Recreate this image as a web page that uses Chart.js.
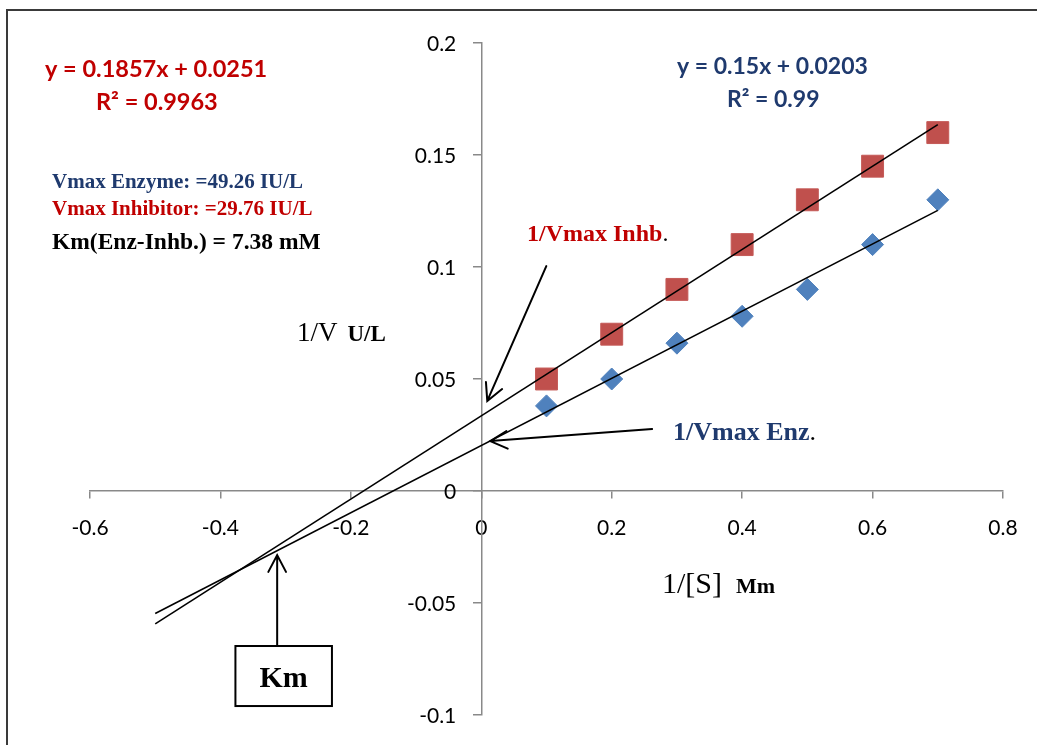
<!DOCTYPE html>
<html>
<head>
<meta charset="utf-8">
<script src="https://cdn.jsdelivr.net/npm/chart.js@4/dist/chart.umd.min.js"></script>
<style>
  html, body { margin: 0; padding: 0; background: #ffffff; }
  #wrap { width: 1037px; height: 745px; position: relative; }
</style>
</head>
<body>
<div id="wrap"><canvas id="plot" width="1037" height="745"></canvas></div>
<script>
// Lineweaver-Burk data: 1/[S] against 1/V
const substrateInv = [0.1, 0.2, 0.3, 0.4, 0.5, 0.6, 0.7];
const enzymeRate = [0.038, 0.05, 0.066, 0.078, 0.09, 0.11, 0.13];
const inhibitorRate = [0.05, 0.07, 0.09, 0.11, 0.13, 0.145, 0.16];

// trendlines are extended back to this 1/[S] value
const trendFrom = -0.5;
const trendTo = 0.7;

const xTicks = [-0.6, -0.4, -0.2, 0, 0.2, 0.4, 0.6, 0.8];
const yTicks = [-0.1, -0.05, 0, 0.05, 0.1, 0.15, 0.2];

// least-squares line through the points
function linearFit(xs, ys) {
  const n = xs.length;
  const mx = xs.reduce((a, b) => a + b, 0) / n;
  const my = ys.reduce((a, b) => a + b, 0) / n;
  let sxy = 0, sxx = 0;
  for (let i = 0; i < n; i++) {
    sxy += (xs[i] - mx) * (ys[i] - my);
    sxx += (xs[i] - mx) * (xs[i] - mx);
  }
  const slope = sxy / sxx;
  return { slope, intercept: my - slope * mx };
}

function trendPoints(fit) {
  return [trendFrom, trendTo].map(x => ({ x, y: fit.slope * x + fit.intercept }));
}

const enzFit = linearFit(substrateInv, enzymeRate);
const inhFit = linearFit(substrateInv, inhibitorRate);

const toPoints = ys => substrateInv.map((x, i) => ({ x, y: ys[i] }));
const fmt = v => String(Number(Number(v).toFixed(3)));

const RED = '#C00000';
const NAVY = '#1F3A6E';
const SERIF = '"Liberation Serif", "Times New Roman", serif';
const SANS = 'Lato, "Open Sans", sans-serif';
const TICK_FONT = '21px Lato, "Open Sans", sans-serif';

// write a line made of differently styled pieces
function drawRuns(ctx, x, y, runs) {
  ctx.textBaseline = 'alphabetic';
  ctx.textAlign = 'left';
  for (const r of runs) {
    ctx.font = r.font;
    ctx.fillStyle = r.color;
    ctx.fillText(r.text, x, y);
    x += ctx.measureText(r.text).width + (r.gap || 0);
  }
}

// open arrowhead at (x2, y2)
function arrow(ctx, x1, y1, x2, y2) {
  const len = 19, spread = Math.PI / 6.5;
  const a = Math.atan2(y1 - y2, x1 - x2);
  ctx.beginPath();
  ctx.moveTo(x1, y1);
  ctx.lineTo(x2, y2);
  ctx.moveTo(x2 + len * Math.cos(a - spread), y2 + len * Math.sin(a - spread));
  ctx.lineTo(x2, y2);
  ctx.lineTo(x2 + len * Math.cos(a + spread), y2 + len * Math.sin(a + spread));
  ctx.stroke();
}

const notes = {
  id: 'notes',
  afterDatasetsDraw(chart) {
    const ctx = chart.ctx;
    const xs = chart.scales.x, ys = chart.scales.y;
    const px = v => xs.getPixelForValue(v);
    const py = v => ys.getPixelForValue(v);
    ctx.save();

    // y tick labels sit to the left of the tick marks of the centred axis
    const axisX = px(0);
    ctx.font = TICK_FONT;
    ctx.fillStyle = '#000';
    ctx.textAlign = 'right';
    ctx.textBaseline = 'middle';
    ys.ticks.forEach(t => {
      ctx.fillText(t.label !== undefined ? t.label : fmt(t.value), axisX - 25, py(t.value) + 1);
    });

    // frame
    ctx.strokeStyle = '#3a3a3a';
    ctx.lineWidth = 2;
    ctx.beginPath();
    ctx.moveTo(7, 745);
    ctx.lineTo(7, 10);
    ctx.lineTo(1037, 10);
    ctx.stroke();

    // trendline equations
    const eqFont = 'bold 23.5px ' + SANS;
    drawRuns(ctx, 45, 77, [{ text: 'y = 0.1857x + 0.0251', font: eqFont, color: RED }]);
    drawRuns(ctx, 96, 110, [{ text: 'R² = 0.9963', font: eqFont, color: RED }]);
    drawRuns(ctx, 677, 74, [{ text: 'y = 0.15x + 0.0203', font: 'bold 23px ' + SANS, color: NAVY }]);
    drawRuns(ctx, 727, 107, [{ text: 'R² = 0.99', font: 'bold 23px ' + SANS, color: NAVY }]);

    // kinetic constants
    drawRuns(ctx, 52, 188, [{ text: 'Vmax Enzyme: =49.26 IU/L', font: 'bold 21px ' + SERIF, color: NAVY }]);
    drawRuns(ctx, 52, 215, [{ text: 'Vmax Inhibitor: =29.76 IU/L', font: 'bold 21px ' + SERIF, color: RED }]);
    drawRuns(ctx, 52, 249, [{ text: 'Km(Enz-Inhb.) = 7.38 mM', font: 'bold 23.5px ' + SERIF, color: '#000' }]);

    // axis titles
    drawRuns(ctx, 297, 341, [
      { text: '1/V', font: '27px ' + SERIF, color: '#000', gap: 10 },
      { text: 'U/L', font: 'bold 23px ' + SERIF, color: '#000' }
    ]);
    drawRuns(ctx, 662, 593, [
      { text: '1/[S]', font: '30px ' + SERIF, color: '#000', gap: 14 },
      { text: 'Mm', font: 'bold 22px ' + SERIF, color: '#000' }
    ]);

    // intercept labels
    drawRuns(ctx, 527, 241, [
      { text: '1/Vmax Inhb', font: 'bold 24px ' + SERIF, color: RED },
      { text: '.', font: '24px ' + SERIF, color: '#000' }
    ]);
    drawRuns(ctx, 673, 440, [
      { text: '1/Vmax Enz', font: 'bold 26px ' + SERIF, color: NAVY },
      { text: '.', font: '26px ' + SERIF, color: '#000' }
    ]);

    // arrows towards the intercepts and the crossing point
    ctx.strokeStyle = '#000';
    ctx.lineWidth = 2;
    ctx.lineCap = 'round';
    arrow(ctx, px(0.0997), py(0.1004), px(0.0092), py(0.0402));
    arrow(ctx, px(0.262), py(0.0277), px(0.0138), py(0.0223));
    arrow(ctx, px(-0.313), py(-0.0692), px(-0.313), py(-0.0286));

    // Km box
    const bx1 = px(-0.377), bx2 = px(-0.229), by1 = py(-0.0692), by2 = py(-0.096);
    ctx.fillStyle = '#fff';
    ctx.fillRect(bx1, by1, bx2 - bx1, by2 - by1);
    ctx.lineWidth = 2;
    ctx.strokeRect(bx1, by1, bx2 - bx1, by2 - by1);
    ctx.font = 'bold 30px ' + SERIF;
    ctx.fillStyle = '#000';
    ctx.textAlign = 'center';
    ctx.textBaseline = 'alphabetic';
    ctx.fillText('Km', (bx1 + bx2) / 2, by1 + 41);

    ctx.restore();
  }
};

const axisColor = '#898989';

new Chart(document.getElementById('plot'), {
  type: 'scatter',
  data: {
    datasets: [
      {
        label: 'Inhibitor trend',
        data: trendPoints(inhFit),
        showLine: true,
        borderColor: '#000',
        borderWidth: 1.6,
        pointRadius: 0,
        order: 0
      },
      {
        label: 'Enzyme trend',
        data: trendPoints(enzFit),
        showLine: true,
        borderColor: '#000',
        borderWidth: 1.6,
        pointRadius: 0,
        order: 0
      },
      {
        label: 'Inhibitor',
        data: toPoints(inhibitorRate),
        pointStyle: 'rect',
        pointRadius: 15.5,
        backgroundColor: '#C0504D',
        borderColor: '#C55A57',
        borderWidth: 1,
        order: 1
      },
      {
        label: 'Enzyme',
        data: toPoints(enzymeRate),
        pointStyle: 'rectRot',
        pointRadius: 11,
        backgroundColor: '#4F81BD',
        borderColor: '#4F81BD',
        borderWidth: 1,
        order: 1
      }
    ]
  },
  options: {
    responsive: false,
    animation: false,
    events: [],
    layout: { padding: { left: 90, right: 34, top: 43, bottom: 30 } },
    plugins: { legend: { display: false }, tooltip: { enabled: false } },
    scales: {
      x: {
        type: 'linear',
        position: { y: 0 },
        min: -0.6,
        max: 0.8,
        afterBuildTicks: s => { s.ticks = xTicks.map(v => ({ value: v })); },
        grid: { display: true, drawOnChartArea: false, drawTicks: true, tickLength: 7, color: axisColor, lineWidth: 1.5 },
        border: { display: true, color: axisColor, width: 1.5 },
        ticks: { color: '#000', padding: 18, font: { family: 'Lato', size: 21 }, callback: v => fmt(v) }
      },
      y: {
        type: 'linear',
        position: { x: 0 },
        min: -0.1,
        max: 0.2,
        afterBuildTicks: s => { s.ticks = yTicks.map(v => ({ value: v })); },
        grid: { display: true, drawOnChartArea: false, drawTicks: true, tickLength: 8, color: axisColor, lineWidth: 1.5 },
        border: { display: true, color: axisColor, width: 1.5 },
        ticks: { display: false, callback: v => fmt(v) }
      }
    }
  },
  plugins: [notes]
});
</script>
</body>
</html>
